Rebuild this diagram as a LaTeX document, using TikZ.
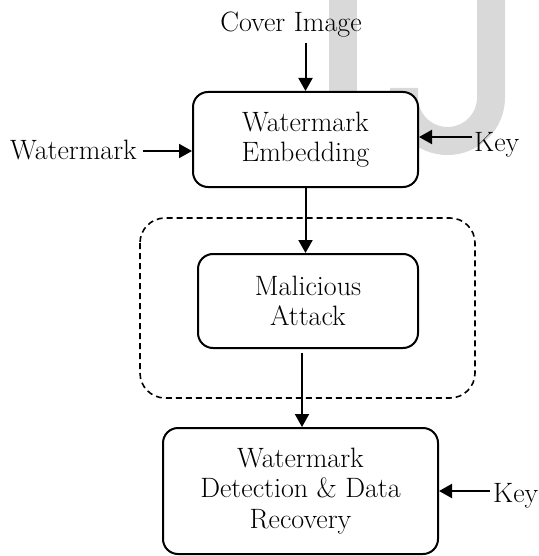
\documentclass[tikz,border=0pt]{standalone}
\usetikzlibrary{arrows.meta}
\definecolor{wmgray}{RGB}{217,217,217}
\begin{document}
\begin{tikzpicture}[x=1pt,y=1pt,
  box/.style={draw, line width=2pt, rounded corners=15pt, fill=white, align=center,
    inner sep=0pt, font=\fontsize{28}{30.5}\selectfont},
  lbl/.style={inner sep=0pt, font=\fontsize{28}{30.5}\selectfont},
  arr/.style={line width=2pt, -{Triangle[length=13pt,width=14pt]}},
  group/.style={draw, line width=1.6pt, rounded corners=25pt, dash pattern=on 6pt off 4pt}]
\useasboundingbox (0,0) rectangle (538,-556);
% faint background logo
\fill[wmgray] (329,0) rectangle (357,-140);
\draw[wmgray, line width=28pt] (491,0) -- (491,-97.5) arc (0:-180:43.5) -- (404,-88);
% group
\draw[group] (140,-218) rectangle (475,-398);
% boxes
\node[box, minimum width=225pt, minimum height=95pt] (b1) at (305.5,-139.5) {Watermark\\Embedding};
\node[box, minimum width=220pt, minimum height=94pt] (b2) at (308,-301) {Malicious\\Attack};
\node[box, minimum width=275pt, minimum height=126pt] (b3) at (300.5,-491) {Watermark\\Detection \& Data\\Recovery};
% labels
\node[lbl, anchor=base] (ci) at (291,-32) {Cover Image};
\node[lbl, anchor=base east] (wm) at (137,-160) {Watermark};
\node[lbl, anchor=base west] (k1) at (474,-152) {Key};
\node[lbl, anchor=base west] (k2) at (493,-502) {Key};
% connector start points
\coordinate (ciS) at (305.5,-43);
\coordinate (wmS) at (143,-151);
\coordinate (k1S) at (472,-137);
\coordinate (a3S) at (302,-353);
\coordinate (k2S) at (490,-491);
% connectors
\draw[arr] (ciS) -- (b1.north);
\draw[arr] (wmS) -- (wmS -| b1.west);
\draw[arr] (k1S) -- (k1S -| b1.east);
\draw[arr] (b1.south) -- (b1.south |- b2.north);
\draw[arr] (a3S) -- (a3S |- b3.north);
\draw[arr] (k2S) -- (k2S -| b3.east);
\end{tikzpicture}
\end{document}
